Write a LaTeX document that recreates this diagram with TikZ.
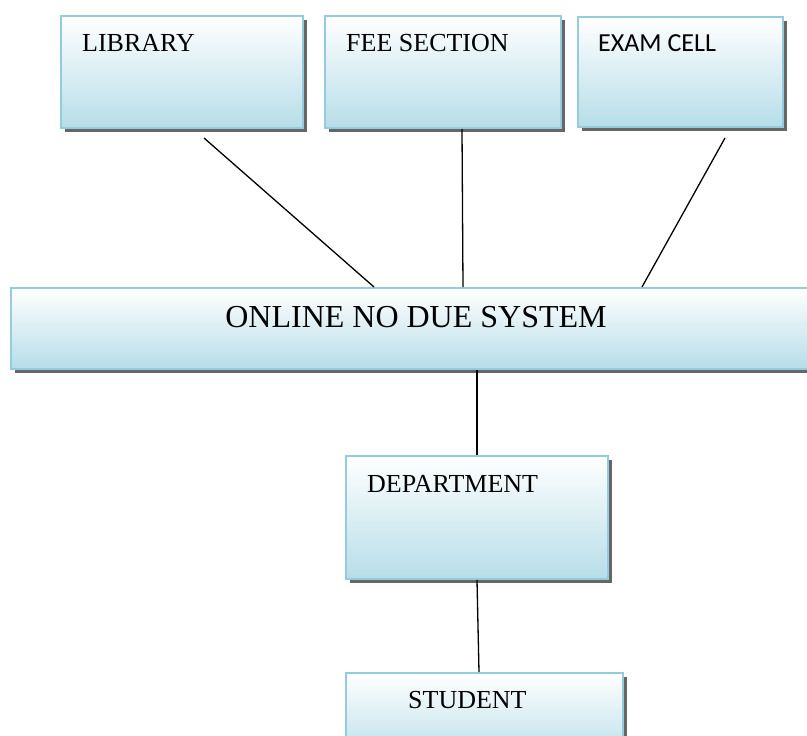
\documentclass[tikz,border=0pt]{standalone}
\usepackage{fontspec}
\setmainfont{Liberation Serif}
\newfontfamily\calfont{Carlito}
\usetikzlibrary{shadows}
\definecolor{boxedge}{HTML}{93CDDD}
\definecolor{boxfill}{HTML}{B6DDE8}
\tikzset{
  unit/.style={draw=boxedge, line width=2pt, anchor=north west, inner sep=0pt,
    top color=white, middle color=boxfill!35, bottom color=boxfill,
    drop shadow={shadow xshift=3.5pt, shadow yshift=-3.5pt, fill=black!60, opacity=1}},
  tag/.style={anchor=base west, inner sep=0pt, font=\fontsize{26}{30}\selectfont},
  link/.style={line width=1.3pt}
}
\begin{document}
\begin{tikzpicture}[x=1pt,y=-1pt]
\useasboundingbox (0,0) rectangle (807,736);
%\draw (0,0) rectangle (807,736);

\node[unit, minimum width=242, minimum height=112] (lib) at (60,15) {};
\node[unit, minimum width=236, minimum height=112] (fee) at (324,15) {};
\node[unit, minimum width=205, minimum height=110] (exam) at (577,16) {};
\node[unit, minimum width=810, minimum height=81] (sys) at (10,287) {};
\node[unit, minimum width=262, minimum height=123] (dept) at (345,455) {};
\node[unit, minimum width=277, minimum height=90] (stud) at (345,672) {};

\node[tag] at ([shift={(22,37)}]lib.north west) {LIBRARY};
\node[tag] at ([shift={(22,37)}]fee.north west) {FEE SECTION};
\node[tag, font=\calfont\fontsize{26}{30}\selectfont] at ([shift={(21,36)}]exam.north west) {EXAM CELL};
\node[tag, anchor=base, font=\fontsize{32}{36}\selectfont] at ([shift={(0,40)}]sys.north) {ONLINE NO DUE SYSTEM};
\node[tag] at ([shift={(22,37)}]dept.north west) {DEPARTMENT};
\node[tag] at ([shift={(63,36)}]stud.north west) {STUDENT};

\draw[link] ([shift={(22,9)}]lib.south) -- ([xshift=-42]sys.north);
\draw[link] ([xshift=19]fee.south) -- ([xshift=47]sys.north);
\draw[link] ([shift={(44.5,10)}]exam.south) -- ([xshift=226]sys.north);
\draw[link] ([xshift=61]sys.south) -- (dept.north);
\draw[link] (dept.south) -- ([xshift=-5.5]stud.north);
\end{tikzpicture}
\end{document}
